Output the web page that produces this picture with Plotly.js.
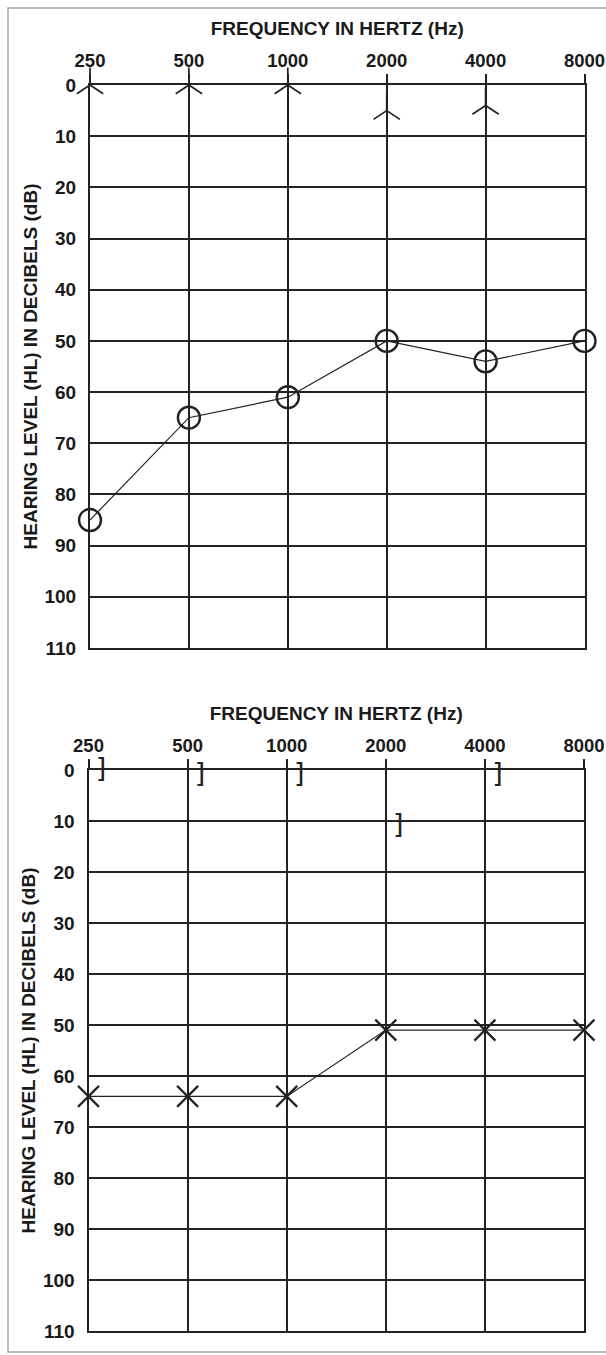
<!DOCTYPE html>
<html>
<head>
<meta charset="utf-8">
<script src="https://cdn.plot.ly/plotly-3.0.1.min.js"></script>
<style>
  html, body { margin: 0; padding: 0; background: #ffffff; }
  #chart { width: 606px; height: 1355px; }
</style>
</head>
<body>
<div id="chart"></div>
<script>
// ---- data ----
const freqs = [250, 500, 1000, 2000, 4000, 8000];
const freqLabels = ['250', '500', '1000', '2000', '4000', '8000'];
const dbTicks = [0, 10, 20, 30, 40, 50, 60, 70, 80, 90, 100, 110];
const dbTickLabels = ['0', '10', '20', '30', '40', '50', '60', '70', '80', '90', '100', '110'];

// top audiogram: air conduction (O) and bone conduction (^)
const airTop = [85, 65, 61, 50, 54, 50];
const boneFreqsTop = [250, 500, 1000, 2000, 4000];
const boneTop = [0, 0, 0, 5, 4];

// bottom audiogram: air conduction (X) and masked bone conduction (])
const airBottom = [64, 64, 64, 51, 51, 51];
const boneFreqsBottom = [250, 500, 1000, 2000, 4000];
const boneBottom = [0, 1, 1, 11, 1];
const boneBottomSymbol = [']', ']', ']', ']', ']'];

const xTitle = 'FREQUENCY IN HERTZ (Hz)';
const yTitle = 'HEARING LEVEL (HL) IN DECIBELS (dB)';

// ---- layout helpers ----
const W = 606, H = 1355;
const px = v => v / W;
const py = v => 1 - v / H;
const ink = '#222222';
const fontFamily = 'Liberation Sans, Arial, sans-serif';
const yLabelFont = { family: fontFamily, size: 19, color: '#1a1a1a', weight: 'bold' };
const xLabelFont = { family: fontFamily, size: 18.5, color: '#1a1a1a', weight: 'bold' };
const tiny = 1e-7; // guards against float rounding at the log-range ends

function xAxis(domain, anchor) {
  return {
    type: 'log', side: 'top', anchor: anchor, domain: domain,
    range: [Math.log10(250) - tiny, Math.log10(8000) + tiny], autorange: false,
    tickvals: freqs, ticktext: freqLabels,
    ticks: 'outside', ticklen: 9, tickwidth: 2, tickcolor: ink,
    tickfont: xLabelFont, ticklabeloverflow: 'allow',
    showgrid: true, gridcolor: ink, gridwidth: 2,
    showline: true, linecolor: ink, linewidth: 2, mirror: true,
    zeroline: false, fixedrange: true,
    title: { text: xTitle, font: { family: fontFamily, size: 19, color: '#1a1a1a', weight: 'bold' }, standoff: 9 }
  };
}
function yAxis(domain, anchor) {
  return {
    anchor: anchor, domain: domain,
    range: [110, 0], autorange: false,
    tickvals: dbTicks, ticktext: dbTickLabels,
    ticks: '', tickfont: yLabelFont, ticklabelstandoff: 8,
    showgrid: true, gridcolor: ink, gridwidth: 2,
    showline: true, linecolor: ink, linewidth: 2, mirror: true,
    zeroline: false, fixedrange: true,
    title: { text: yTitle, font: { family: fontFamily, size: 19, color: '#1a1a1a', weight: 'bold' }, standoff: 2 }
  };
}

const traces = [
  {
    x: freqs, y: airTop, xaxis: 'x', yaxis: 'y', type: 'scatter', mode: 'lines+markers',
    line: { color: ink, width: 1.2 },
    marker: { symbol: 'circle-open', size: 22, color: ink, line: { width: 2.4, color: ink } },
    cliponaxis: false, showlegend: false
  },
  {
    x: boneFreqsTop, y: boneTop, xaxis: 'x', yaxis: 'y', type: 'scatter', mode: 'markers',
    marker: { symbol: 'y-up', size: 22, color: ink, line: { width: 1.7, color: ink } },
    cliponaxis: false, showlegend: false
  },
  {
    x: freqs, y: airBottom, xaxis: 'x2', yaxis: 'y2', type: 'scatter', mode: 'lines+markers',
    line: { color: ink, width: 1.2 },
    marker: { symbol: 'x-thin-open', size: 21, color: ink, line: { width: 2.2, color: ink } },
    cliponaxis: false, showlegend: false
  },
  {
    x: boneFreqsBottom, y: boneBottom, xaxis: 'x2', yaxis: 'y2', type: 'scatter', mode: 'markers+text',
    text: boneBottomSymbol, textposition: 'middle right',
    marker: { size: 10, opacity: 0 },
    textfont: { family: 'DejaVu Sans, sans-serif', size: 27, color: ink },
    cliponaxis: false, showlegend: false
  }
];

const layout = {
  width: W, height: H,
  margin: { l: 0, r: 0, t: 0, b: 0 },
  paper_bgcolor: '#ffffff', plot_bgcolor: '#ffffff',
  showlegend: false,
  xaxis: xAxis([px(90), px(584.5)], 'y'),
  yaxis: yAxis([py(648), py(85)], 'x'),
  xaxis2: xAxis([px(88.5), px(584)], 'y2'),
  yaxis2: yAxis([py(1331), py(770)], 'x2'),
  shapes: [
    { type: 'rect', xref: 'paper', yref: 'paper', x0: px(8), x1: px(640), y0: py(1352), y1: py(8),
      line: { color: '#a8a8a8', width: 1.5 }, fillcolor: 'rgba(0,0,0,0)', layer: 'below' }
  ]
};

Plotly.newPlot('chart', traces, layout, { staticPlot: true, displayModeBar: false });
</script>
</body>
</html>
